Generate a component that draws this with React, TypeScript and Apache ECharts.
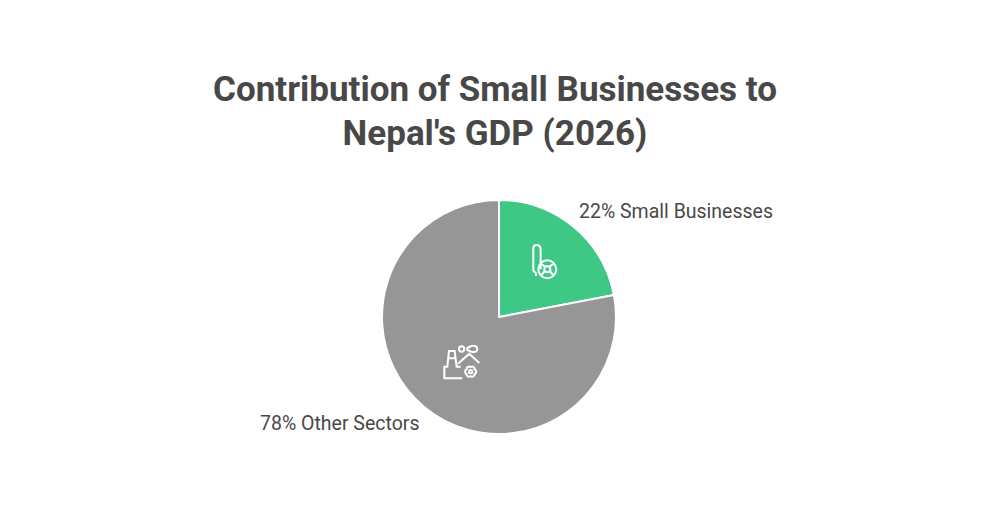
import React, { useEffect, useRef } from 'react';
import * as echarts from 'echarts';

const titleLines = ['Contribution of Small Businesses to', "Nepal's GDP (2026)"];
const categories = ['Small Businesses', 'Other Sectors'];
const shares = [22, 78];
const sliceColors = ['#3EC785', '#969696'];
const labelAnchors = [
    { x: 579, y: 211 },
    { x: 260, y: 423 },
];

// icons are traced in a 3x grid, then scaled down
const businessIcon =
    'M70 122 L70 55 Q70 45 80 45 Q92 45 92 60 L92 118 ' +
    'M70 122 L78 130 L78 138 ' +
    'M139 118 A27 27 0 1 1 85 118 A27 27 0 1 1 139 118 ' +
    'M121 118 A9 9 0 1 1 103 118 A9 9 0 1 1 121 118 ' +
    'M92 100 L106 111 M132 100 L118 111 M103 124 L94 137 M121 124 L130 137';
const sectorsIcon =
    'M97 130 L43 130 L43 95 L52 95 L57 48 L74 48 L80 95 L92 95 ' +
    'M55 70 L76 70 ' +
    'M84 86 L118 56 L148 84 ' +
    'M103 42 A8 8 0 1 1 87 42 A8 8 0 1 1 103 42 ' +
    'M112 39 L124 33 Q142 30 142 42 Q142 54 124 50 L112 45 Z ' +
    'M134 103 A7.5 7.5 0 0 1 134 117 A7.5 7.5 0 0 1 122 124 A7.5 7.5 0 0 1 110 117 ' +
    'A7.5 7.5 0 0 1 110 103 A7.5 7.5 0 0 1 122 96 A7.5 7.5 0 0 1 134 103 Z ' +
    'M127 110 A5 5 0 1 1 117 110 A5 5 0 1 1 127 110';

echarts.graphic.registerShape('businessIcon', echarts.graphic.extendPath(businessIcon as any, {}) as any);
echarts.graphic.registerShape('sectorsIcon', echarts.graphic.extendPath(sectorsIcon as any, {}) as any);

const App: React.FC = () => {
    const chartRef = useRef<HTMLDivElement | null>(null);

    useEffect(() => {
        if (!chartRef.current) return;
        const chart = echarts.init(chartRef.current, undefined, { renderer: 'svg' });

        chart.setOption({
            animation: false,
            backgroundColor: '#ffffff',
            title: {
                text: titleLines.join('\n'),
                left: 490,
                top: 62,
                textAlign: 'center',
                textStyle: {
                    fontFamily: 'Roboto',
                    fontWeight: 'bold',
                    fontSize: 35,
                    lineHeight: 44,
                    color: '#484848',
                },
            },
            series: [
                {
                    type: 'pie',
                    center: [499, 317],
                    radius: [0, 117],
                    startAngle: 90,
                    clockwise: true,
                    silent: true,
                    data: categories.map((name, i) => ({
                        name,
                        value: shares[i],
                        itemStyle: { color: sliceColors[i] },
                    })),
                    itemStyle: { borderColor: '#ffffff', borderWidth: 2 },
                    label: {
                        show: true,
                        position: 'outside',
                        formatter: (p: any) => `${p.value}% ${p.name}`,
                        fontFamily: 'Roboto',
                        fontSize: 19.5,
                        color: '#484848',
                        alignTo: 'none',
                    },
                    labelLine: { show: false },
                    labelLayout: (p: any) => ({
                        x: labelAnchors[p.dataIndex].x,
                        y: labelAnchors[p.dataIndex].y,
                        align: 'left',
                        verticalAlign: 'middle',
                    }),
                },
            ],
            graphic: [
                {
                    type: 'businessIcon',
                    x: 510,
                    y: 230,
                    scaleX: 1 / 3,
                    scaleY: 1 / 3,
                    z: 10,
                    silent: true,
                    style: { fill: 'none', stroke: '#ffffff', lineWidth: 6 },
                },
                {
                    type: 'sectorsIcon',
                    x: 430,
                    y: 335,
                    scaleX: 1 / 3,
                    scaleY: 1 / 3,
                    z: 10,
                    silent: true,
                    style: { fill: 'none', stroke: '#ffffff', lineWidth: 6 },
                },
            ],
        });

        return () => {
            chart.dispose();
        };
    }, []);

    return (
        <div
            ref={chartRef}
            style={{ position: 'absolute', left: 0, top: 0, width: '1000px', height: '512px' }}
        />
    );
};

export default App;
